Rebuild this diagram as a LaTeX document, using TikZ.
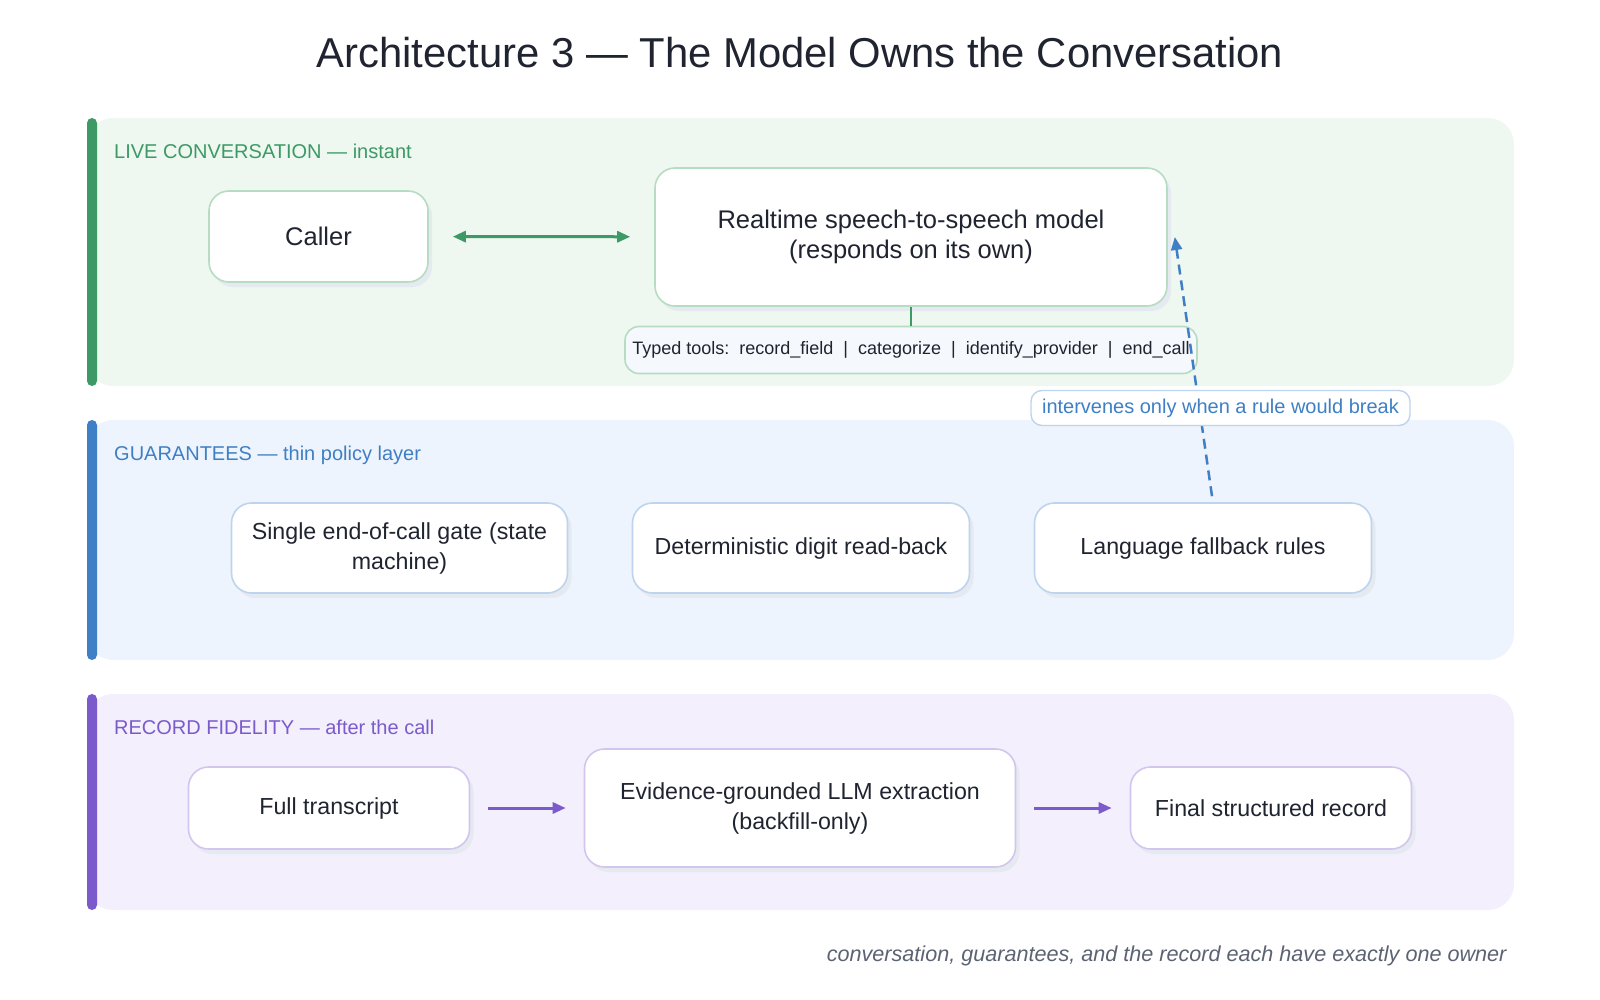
\documentclass[tikz,border=0pt]{standalone}
\usepackage{fontspec}
\setmainfont{Liberation Sans}
\usetikzlibrary{positioning,arrows.meta,shadows}
\definecolor{ink}{HTML}{1F2430}
\definecolor{livegreen}{HTML}{3D9A66}
\definecolor{livefill}{HTML}{EEF7F0}
\definecolor{liveline}{HTML}{B6DCC1}
\definecolor{guardblue}{HTML}{3F7FC5}
\definecolor{guardfill}{HTML}{EEF4FD}
\definecolor{guardline}{HTML}{BDD3EE}
\definecolor{recpurple}{HTML}{7B5BCB}
\definecolor{recfill}{HTML}{F3EFFD}
\definecolor{recline}{HTML}{D2C6EF}
\definecolor{toolfill}{HTML}{F5F8FC}
\definecolor{shadowgray}{HTML}{E5E9F0}
\definecolor{notegray}{HTML}{5B6372}
\newcommand{\toolsep}{\ \ |\ \ }
\tikzset{
  % --- lanes: tinted panel with a coloured bar on the left ---
  lane/.style={rounded corners=26pt},
  lanebar/.style={rounded corners=5pt},
  lanelabel/.style={anchor=west, inner sep=0pt, font=\fontsize{20}{24}\selectfont},
  % --- white cards with a soft drop shadow ---
  card/.style={draw, line width=1.6pt, fill=white, rounded corners=20pt,
               align=center, text=ink, inner sep=0pt,
               font=\fontsize{23.2}{30}\selectfont,
               drop shadow={shadow xshift=4pt, shadow yshift=-5pt,
                            fill=shadowgray, opacity=1}},
  livecard/.style={card, draw=liveline, font=\fontsize{25.5}{30}\selectfont},
  guardcard/.style={card, draw=guardline},
  reccard/.style={card, draw=recline},
  toolbox/.style={draw=liveline, line width=1.6pt, fill=toolfill,
                  rounded corners=14pt, text=ink, inner sep=0pt,
                  font=\fontsize{18}{21}\selectfont},
  notebox/.style={draw=guardline, line width=1.4pt, fill=white,
                  rounded corners=11pt, text=guardblue, inner sep=0pt,
                  font=\fontsize{20}{24}\selectfont},
  % --- connectors ---
  talk/.style={line width=3pt, draw=livegreen,
               {Triangle[length=13pt,width=11pt]}-{Triangle[length=13pt,width=11pt]},
               shorten <=24pt, shorten >=24pt},
  hook/.style={line width=2.5pt, draw=livegreen},
  override/.style={line width=2.5pt, draw=guardblue, dash pattern=on 10pt off 6pt,
                   -{Triangle[length=13pt,width=11pt]}},
  flow/.style={line width=3pt, draw=recpurple,
               -{Triangle[length=13pt,width=11pt]},
               shorten <=18pt, shorten >=18pt},
}

\begin{document}
\begin{tikzpicture}[x=1pt, y=-1pt]
  \useasboundingbox (0,0) rectangle (1600,1000);

  \node[text=ink, font=\fontsize{41.8}{50}\selectfont] (title) at (800,53)
       {Architecture 3 — The Model Owns the Conversation};

  % three lanes, top to bottom
  \fill[livefill, lane]  (87,118) rectangle (1514,386);
  \fill[livegreen, lanebar] (87,118) rectangle (97,386);
  \node[lanelabel, text=livegreen] (livelbl) at (114,151) {LIVE CONVERSATION — instant};

  \fill[guardfill, lane] (87,420) rectangle (1514,660);
  \fill[guardblue, lanebar] (87,420) rectangle (97,660);
  \node[lanelabel, text=guardblue] (guardlbl) at (114,455) {GUARANTEES — thin policy layer};

  \fill[recfill, lane]   (87,694) rectangle (1514,910);
  \fill[recpurple, lanebar] (87,694) rectangle (97,910);
  \node[lanelabel, text=recpurple] (reclbl) at (114,727) {RECORD FIDELITY — after the call};

  % live conversation
  \node[livecard, minimum width=219pt, minimum height=91pt] (caller) at (318.5,236.5) {Caller};
  \node[livecard, minimum width=512pt, minimum height=138pt] (model) at (911,237)
       {Realtime speech-to-speech model\\(responds on its own)};
  \node[toolbox, minimum width=572pt, minimum height=47pt] (tools) at (911,350)
       {Typed tools:\ \ record\_field\toolsep categorize\toolsep identify\_provider\toolsep end\_call};
  \draw[talk] (caller) -- (model);
  \draw[hook] (model.south) -- (tools.north);

  % guarantees
  \node[guardcard, minimum width=336pt, minimum height=90pt] (gate) at (399.5,548)
       {Single end-of-call gate (state\\machine)};
  \node[guardcard, minimum width=337pt, minimum height=90pt] (digits) at (801,548)
       {Deterministic digit read-back};
  \node[guardcard, minimum width=337pt, minimum height=90pt] (lang) at (1203,548)
       {Language fallback rules};

  % policy only steps in when needed
  \draw[override] ([xshift=9pt, yshift=6pt]lang.north) -- ([xshift=7pt]model.east);
  \node[notebox, minimum width=379pt, minimum height=35pt] (note) at (1220.5,408)
       {intervenes only when a rule would break};

  % record fidelity
  \node[reccard, minimum width=281pt, minimum height=82pt] (transcript) at (329,808) {Full transcript};
  \node[reccard, minimum width=431pt, minimum height=118pt] (extract) at (800,808)
       {Evidence-grounded LLM extraction\\(backfill-only)};
  \node[reccard, minimum width=281pt, minimum height=82pt] (final) at (1271,808) {Final structured record};
  \draw[flow] (transcript) -- (extract);
  \draw[flow] (extract) -- (final);

  \node[anchor=east, text=notegray, font=\fontsize{21.6}{26}\selectfont\itshape] (footer) at (1510,956)
       {conversation, guarantees, and the record each have exactly one owner};
\end{tikzpicture}
\end{document}
